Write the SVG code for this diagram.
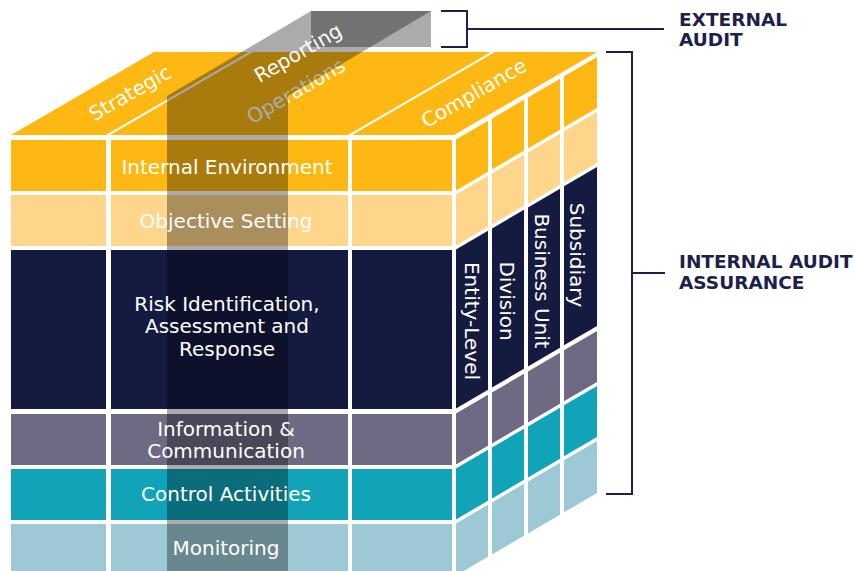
<svg xmlns="http://www.w3.org/2000/svg" width="854" height="571" viewBox="0 0 854 571">
<defs>
<style>
.y1{fill:#FDB813}
.y2{fill:#FED68B}
.nv{fill:#141A40}
.pu{fill:#6E6A84}
.te{fill:#11A3B8}
.lb{fill:#9DC9D5}
.ov{fill:#000000;fill-opacity:0.33}
.lbl{font-family:"DejaVu Sans",sans-serif;font-size:20px;fill:#ffffff;text-anchor:middle}
.hd{font-family:"DejaVu Sans",sans-serif;font-weight:bold;font-size:18.5px;fill:#1B2149}
.br{fill:none;stroke:#1B2149;stroke-width:2}
</style>
</defs>
<rect width="854" height="571" fill="#ffffff"/>

<!-- prism back face (behind cube) -->
<rect id="prism-back" class="ov" x="311" y="11" width="120" height="36"/>

<!-- top face -->
<g id="top-face" transform="translate(0 135) skewX(-59.87)">
  <rect id="top-strategic" class="y1" x="11" y="-83" width="95" height="83"/>
  <rect id="top-operations" class="y1" x="110" y="-83" width="238" height="83"/>
  <rect id="top-compliance" class="y1" x="352" y="-83" width="102" height="83"/>
</g>

<!-- front face -->
<g id="front-face">
  <g id="row-internal-environment">
    <rect class="y1" x="11" y="140" width="95" height="51"/>
    <rect class="y1" x="111" y="140" width="237" height="51"/>
    <rect class="y1" x="352" y="140" width="100" height="51"/>
  </g>
  <g id="row-objective-setting">
    <rect class="y2" x="11" y="195" width="95" height="51"/>
    <rect class="y2" x="111" y="195" width="237" height="51"/>
    <rect class="y2" x="352" y="195" width="100" height="51"/>
  </g>
  <g id="row-risk">
    <rect class="nv" x="11" y="250" width="95" height="159"/>
    <rect class="nv" x="111" y="250" width="237" height="159"/>
    <rect class="nv" x="352" y="250" width="100" height="159"/>
  </g>
  <g id="row-information">
    <rect class="pu" x="11" y="414" width="95" height="51"/>
    <rect class="pu" x="111" y="414" width="237" height="51"/>
    <rect class="pu" x="352" y="414" width="100" height="51"/>
  </g>
  <g id="row-control">
    <rect class="te" x="11" y="469" width="95" height="51"/>
    <rect class="te" x="111" y="469" width="237" height="51"/>
    <rect class="te" x="352" y="469" width="100" height="51"/>
  </g>
  <g id="row-monitoring">
    <rect class="lb" x="11" y="524" width="95" height="52"/>
    <rect class="lb" x="111" y="524" width="237" height="52"/>
    <rect class="lb" x="352" y="524" width="100" height="52"/>
  </g>
</g>

<!-- side face -->
<g id="side-face" transform="translate(455 0) skewY(-30.28)">
  <g id="side-r1">
    <rect class="y1" x="1" y="140" width="32" height="51"/>
    <rect class="y1" x="37" y="140" width="32" height="51"/>
    <rect class="y1" x="73" y="140" width="32" height="51"/>
    <rect class="y1" x="109" y="140" width="33" height="51"/>
  </g>
  <g id="side-r2">
    <rect class="y2" x="1" y="195" width="32" height="51"/>
    <rect class="y2" x="37" y="195" width="32" height="51"/>
    <rect class="y2" x="73" y="195" width="32" height="51"/>
    <rect class="y2" x="109" y="195" width="33" height="51"/>
  </g>
  <g id="side-r3">
    <rect class="nv" x="1" y="250" width="32" height="159"/>
    <rect class="nv" x="37" y="250" width="32" height="159"/>
    <rect class="nv" x="73" y="250" width="32" height="159"/>
    <rect class="nv" x="109" y="250" width="33" height="159"/>
  </g>
  <g id="side-r4">
    <rect class="pu" x="1" y="414" width="32" height="51"/>
    <rect class="pu" x="37" y="414" width="32" height="51"/>
    <rect class="pu" x="73" y="414" width="32" height="51"/>
    <rect class="pu" x="109" y="414" width="33" height="51"/>
  </g>
  <g id="side-r5">
    <rect class="te" x="1" y="469" width="32" height="51"/>
    <rect class="te" x="37" y="469" width="32" height="51"/>
    <rect class="te" x="73" y="469" width="32" height="51"/>
    <rect class="te" x="109" y="469" width="33" height="51"/>
  </g>
  <g id="side-r6">
    <rect class="lb" x="1" y="524" width="32" height="52"/>
    <rect class="lb" x="37" y="524" width="32" height="52"/>
    <rect class="lb" x="73" y="524" width="32" height="52"/>
    <rect class="lb" x="109" y="524" width="33" height="52"/>
  </g>
</g>

<!-- label under overlay -->
<text id="lbl-operations" class="lbl" transform="translate(296 91) rotate(-30)" y="7">Operations</text>

<!-- reporting prism overlay -->
<g id="prism-reporting">
  <polygon class="ov" points="167,96 288,96 431,11 311,11"/>
  <rect class="ov" x="167" y="96" width="121" height="480"/>
</g>

<!-- top labels -->
<text id="lbl-strategic" class="lbl" transform="translate(130 93) rotate(-30)" y="7">Strategic</text>
<text id="lbl-reporting" class="lbl" transform="translate(298 53) rotate(-30)" y="7">Reporting</text>
<text id="lbl-compliance" class="lbl" transform="translate(474 93) rotate(-30)" y="7">Compliance</text>

<!-- front labels -->
<text class="lbl" x="227" y="174">Internal Environment</text>
<text class="lbl" x="226" y="228">Objective Setting</text>
<text class="lbl" x="227" y="311">Risk Identification,</text>
<text class="lbl" x="227" y="333">Assessment and</text>
<text class="lbl" x="227" y="356">Response</text>
<text class="lbl" x="226" y="436">Information &amp;</text>
<text class="lbl" x="226" y="458">Communication</text>
<text class="lbl" x="226" y="501">Control Activities</text>
<text class="lbl" x="226" y="555">Monitoring</text>

<!-- side labels -->
<text class="lbl" transform="translate(472 321) rotate(90)" y="7">Entity-Level</text>
<text class="lbl" transform="translate(507 301) rotate(90)" y="7">Division</text>
<text class="lbl" transform="translate(542 281) rotate(90)" y="7">Business Unit</text>
<text class="lbl" transform="translate(577 255) rotate(90)" y="7">Subsidiary</text>

<!-- brackets -->
<g id="connectors">
  <path class="br" d="M441 11 H467 V47 H441 M467 29 H664"/>
  <path class="br" d="M606 52 H632 V494 H606 M632 273 H665"/>
</g>

<g id="external-audit">
  <text class="hd" x="679" y="26">EXTERNAL</text>
  <text class="hd" x="679" y="46">AUDIT</text>
</g>
<g id="internal-audit">
  <text class="hd" x="679" y="268">INTERNAL AUDIT</text>
  <text class="hd" x="679" y="289">ASSURANCE</text>
</g>
</svg>
